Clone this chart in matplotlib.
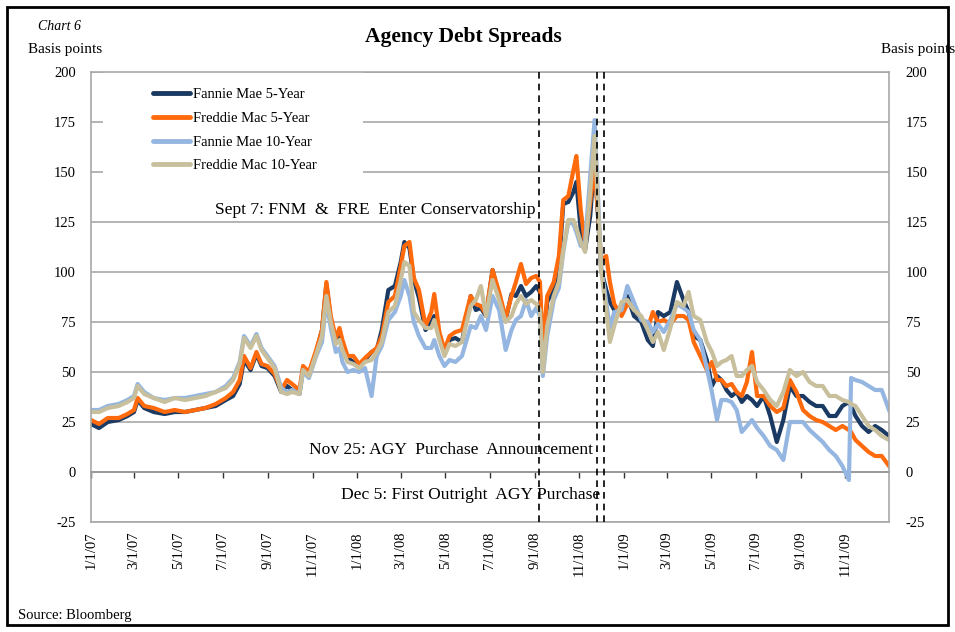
import matplotlib
matplotlib.use('Agg')
import matplotlib.pyplot as plt
import matplotlib.dates as mdates
from matplotlib.patches import Rectangle
import pandas as pd

# data (basis points)
dates = [
    '2007-01-01', '2007-01-12', '2007-01-24', '2007-02-08', '2007-02-20', '2007-03-01', '2007-03-06',
    '2007-03-15', '2007-03-28', '2007-04-12', '2007-04-26', '2007-05-10', '2007-05-24', '2007-06-07',
    '2007-06-21', '2007-07-05', '2007-07-15', '2007-07-24', '2007-07-30', '2007-08-08', '2007-08-16',
    '2007-08-23', '2007-08-31', '2007-09-10', '2007-09-19', '2007-09-27', '2007-10-04', '2007-10-14',
    '2007-10-19', '2007-10-27', '2007-11-06', '2007-11-14', '2007-11-20', '2007-11-26', '2007-12-03',
    '2007-12-08', '2007-12-12', '2007-12-19', '2007-12-27',
    '2008-01-04', '2008-01-12', '2008-01-21', '2008-01-28', '2008-02-04', '2008-02-13', '2008-02-22',
    '2008-03-01', '2008-03-06', '2008-03-13', '2008-03-19', '2008-03-26', '2008-04-04', '2008-04-12',
    '2008-04-16', '2008-04-23', '2008-04-30', '2008-05-07', '2008-05-15', '2008-05-24', '2008-06-05',
    '2008-06-12', '2008-06-19', '2008-06-26', '2008-07-05', '2008-07-14', '2008-07-23', '2008-07-31',
    '2008-08-06', '2008-08-13', '2008-08-20', '2008-08-27', '2008-09-03', '2008-09-08', '2008-09-12',
    '2008-09-18', '2008-09-27', '2008-10-04', '2008-10-10', '2008-10-17', '2008-10-24', '2008-10-28',
    '2008-11-03', '2008-11-09', '2008-11-16', '2008-11-22', '2008-11-27', '2008-12-01', '2008-12-08',
    '2008-12-13', '2008-12-19', '2008-12-29',
    '2009-01-06', '2009-01-15', '2009-01-25', '2009-02-03', '2009-02-10', '2009-02-17', '2009-02-25',
    '2009-03-06', '2009-03-15', '2009-03-24', '2009-03-31', '2009-04-07', '2009-04-16', '2009-04-25',
    '2009-05-02', '2009-05-09', '2009-05-15', '2009-05-22', '2009-05-29', '2009-06-05', '2009-06-12',
    '2009-06-19', '2009-06-26', '2009-07-03', '2009-07-12', '2009-07-21', '2009-07-30', '2009-08-08',
    '2009-08-17', '2009-08-26', '2009-09-04', '2009-09-13', '2009-09-22', '2009-10-01', '2009-10-10',
    '2009-10-19', '2009-10-28', '2009-11-06', '2009-11-09', '2009-11-15', '2009-11-24', '2009-12-03',
    '2009-12-12', '2009-12-21', '2009-12-31',
]

fannie_5y = [
    24, 22, 25, 26, 28, 30, 36, 32, 30, 29, 30, 30, 31, 32, 33, 36, 38, 44, 56, 51,
    59, 53, 52, 48, 40, 43, 41, 39, 52, 49, 60, 71, 94, 76, 66, 70, 63, 57, 55,
    53, 56, 60, 61, 71, 91, 93, 105, 115, 112, 96, 87, 71, 75, 78, 68, 60, 66, 67, 65,
    88, 81, 82, 78, 101, 88, 76, 89, 88, 93, 88, 90, 93, 90, 61, 85, 92, 102, 134, 135,
    140, 145, 121, 111, 128, 156, 126, 101, 91, 85, 81, 82,
    88, 78, 75, 66, 63, 80, 78, 80, 95, 86, 80, 68, 66, 56, 43, 48, 46, 41, 38, 40,
    35, 38, 36, 33, 38, 28, 15, 26, 43, 38, 38, 35, 33, 33, 28, 28, 33, 35, 33, 28,
    23, 20, 23, 21, 18,
]
freddie_5y = [
    26, 24, 27, 27, 29, 31, 37, 33, 32, 30, 31, 30, 31, 32, 34, 37, 40, 46, 58, 52,
    60, 54, 53, 49, 41, 46, 44, 41, 53, 50, 61, 71, 95, 78, 67, 72, 66, 58, 58,
    54, 57, 60, 62, 68, 85, 88, 103, 113, 115, 97, 91, 73, 80, 89, 70, 61, 68, 70, 71,
    88, 84, 83, 79, 101, 90, 77, 88, 95, 104, 94, 97, 98, 95, 62, 88, 95, 108, 136, 138,
    151, 158, 131, 114, 135, 152, 128, 106, 108, 95, 84, 78,
    84, 82, 77, 72, 80, 75, 76, 74, 78, 78, 76, 65, 58, 51, 55, 46, 46, 43, 44, 40,
    38, 45, 60, 38, 38, 33, 30, 32, 46, 40, 31, 28, 26, 25, 23, 21, 23, 21, 20, 16,
    13, 10, 8, 8, 3,
]
fannie_10y = [
    31, 31, 33, 34, 36, 38, 44, 40, 37, 36, 37, 37, 38, 39, 40, 43, 47, 55, 68, 63,
    69, 62, 58, 53, 42, 40, 41, 39, 50, 47, 58, 65, 86, 72, 60, 62, 55, 50, 51,
    50, 52, 38, 58, 63, 76, 80, 88, 96, 88, 75, 68, 62, 62, 66, 58, 53, 56, 55, 58,
    73, 72, 78, 71, 88, 81, 61, 71, 76, 78, 86, 78, 82, 78, 48, 68, 86, 92, 110, 125,
    124, 120, 113, 115, 148, 176, 135, 103, 85, 72, 80, 81,
    93, 85, 76, 75, 70, 74, 70, 76, 84, 82, 80, 71, 66, 52, 40, 26, 36, 36, 35, 31,
    20, 23, 26, 22, 18, 13, 11, 6, 25, 25, 25, 21, 18, 15, 11, 8, 3, -4, 47, 46,
    45, 43, 41, 41, 31,
]
freddie_10y = [
    30, 30, 32, 33, 35, 37, 43, 39, 37, 35, 37, 36, 37, 38, 40, 42, 46, 54, 67, 62,
    68, 61, 57, 52, 40, 39, 40, 39, 51, 48, 59, 68, 88, 75, 64, 66, 61, 55, 54,
    52, 55, 56, 60, 65, 80, 83, 96, 105, 103, 80, 76, 72, 72, 76, 66, 58, 64, 63, 65,
    83, 86, 93, 78, 96, 86, 75, 78, 84, 88, 84, 86, 84, 81, 50, 73, 88, 95, 111, 126,
    126, 122, 115, 110, 140, 168, 131, 101, 81, 65, 73, 85,
    86, 81, 78, 71, 65, 70, 61, 72, 85, 83, 90, 78, 76, 65, 60, 53, 55, 56, 58, 48,
    48, 51, 53, 45, 41, 36, 33, 40, 51, 48, 50, 45, 43, 43, 38, 38, 36, 35, 34, 33,
    28, 23, 21, 18, 16,
]

series_names = ['Fannie Mae 5-Year', 'Freddie Mac 5-Year', 'Fannie Mae 10-Year', 'Freddie Mac 10-Year']
series_colors = ['#1B3A63', '#FF6A0D', '#94B6E0', '#C8BF9C']

event_dates = ['2008-09-07', '2008-11-25', '2008-12-05']
event_labels = ['Sept 7: FNM  &  FRE  Enter Conservatorship',
                'Nov 25: AGY  Purchase  Announcement',
                'Dec 5: First Outright  AGY Purchase']
event_y = [131, 11, -11.5]

yticks = list(range(-25, 201, 25))

plt.rcParams['font.family'] = ['Liberation Serif', 'DejaVu Serif']
plt.rcParams['axes.unicode_minus'] = False

fig = plt.figure(figsize=(9.55, 6.32), dpi=100)
ax = fig.add_axes([91 / 955, 1 - 522 / 632, 798 / 955, 450 / 632])

x = pd.to_datetime(dates)
for vals, name, col in zip([fannie_5y, freddie_5y, fannie_10y, freddie_10y], series_names, series_colors):
    ax.plot(x, vals, color=col, lw=3.0, label=name, solid_joinstyle='round')

ax.set_xlim(pd.Timestamp('2007-01-01'), pd.Timestamp('2009-12-31'))
ax.set_ylim(-25, 200)
ax.set_yticks(yticks)
ax.yaxis.grid(True, color='#A8A8A8', lw=1.2)
ax.set_axisbelow(True)
for s in ax.spines.values():
    s.set_color('#A8A8A8')
    s.set_linewidth(1.2)

xt = pd.date_range('2007-01-01', '2009-11-01', freq='2MS')
ax.set_xticks(xt)
ax.set_xticklabels([f'{d.month}/{d.day}/{d:%y}' for d in xt], rotation=90, fontsize=10.5)
ax.tick_params(axis='x', length=0, pad=7)
ax.tick_params(axis='y', length=0, pad=11, labelsize=10.5)

# axis line at zero with tick marks
sec = ax.secondary_xaxis(25 / 225)
sec.set_xticks(mdates.date2num(xt))
sec.set_xticklabels([])
sec.tick_params(direction='out', length=4, width=1, color='#333333')
sec.spines['bottom'].set_color('#333333')
sec.spines['bottom'].set_linewidth(1.2)

ax2 = ax.twinx()
ax2.set_ylim(-25, 200)
ax2.set_yticks(yticks)
ax2.tick_params(axis='y', length=0, pad=12, labelsize=10.5)
for s in ax2.spines.values():
    s.set_visible(False)

for d, lab, yv in zip(event_dates, event_labels, event_y):
    ax.axvline(pd.Timestamp(d), color='black', ls=(0, (4, 3)), lw=1.2, zorder=5)
    ax.annotate(lab, (pd.Timestamp(d), yv), xytext=(-3, 0), textcoords='offset points',
                ha='right', va='center', fontsize=12.6, zorder=6)

# white legend area (Excel style, hides the gridlines behind it)
ax.add_patch(Rectangle((0.015, 0.74), 0.326, 0.26, transform=ax.transAxes,
                       facecolor='white', edgecolor='none', zorder=1))
leg = ax.legend(loc='upper left', bbox_to_anchor=(0.057, 1.0), borderaxespad=0.1,
                frameon=False, fontsize=10.5, handlelength=2.6, handletextpad=0.15,
                labelspacing=0.72, borderpad=1.0)
for h in leg.get_lines():
    h.set_linewidth(3.5)
    h.set_solid_capstyle('round')

fig.text(463 / 955, 1 - 37 / 632, 'Agency Debt Spreads', ha='center', va='center',
         fontsize=15.5, fontweight='bold')
fig.text(38 / 955, 1 - 27 / 632, 'Chart 6', ha='left', va='center', fontsize=10, style='italic')
fig.text(28 / 955, 1 - 50 / 632, 'Basis points', ha='left', va='center', fontsize=11)
fig.text(955 / 955, 1 - 50 / 632, 'Basis points', ha='right', va='center', fontsize=11)
fig.text(18 / 955, 1 - 615 / 632, 'Source: Bloomberg', ha='left', va='center', fontsize=10.5)

fig.patches.append(Rectangle((7 / 955, 7 / 632), 941 / 955, 618 / 632, transform=fig.transFigure,
                             fill=False, lw=2, ec='black'))

fig.savefig('out.png', dpi=100)
